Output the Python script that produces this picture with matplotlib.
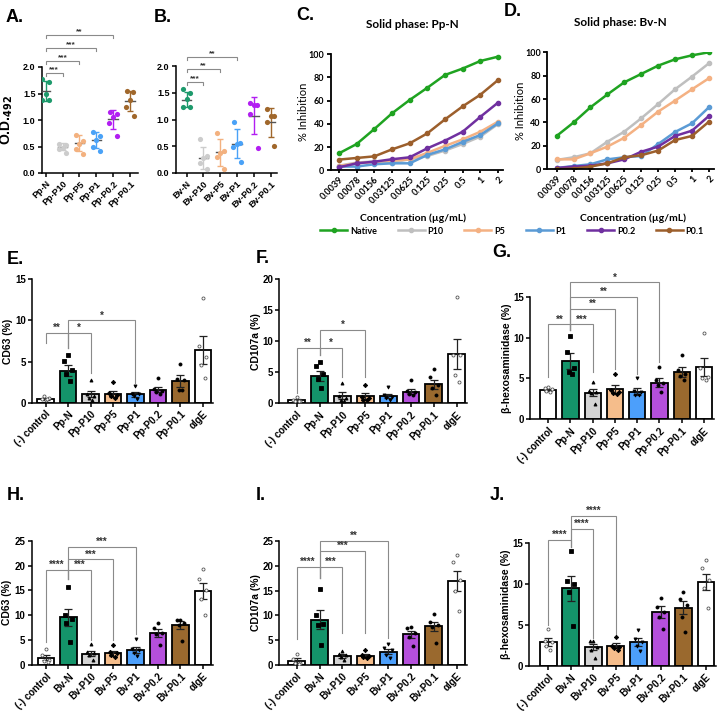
import matplotlib
matplotlib.use('Agg')
import matplotlib.pyplot as plt
from matplotlib.lines import Line2D
import numpy as np

plt.rcParams['font.family'] = ['Liberation Sans', 'DejaVu Sans']
plt.rcParams['font.weight'] = 'bold'
plt.rcParams['mathtext.default'] = 'bf'

# ---------------- data ----------------
groups_A = ['Pp-N', 'Pp-P10', 'Pp-P5', 'Pp-P1', 'Pp-P0.2', 'Pp-P0.1']
groups_B = ['Bv-N', 'Bv-P10', 'Bv-P5', 'Bv-P1', 'Bv-P0.2', 'Bv-P0.1']
pts_A = [[1.77, 1.72, 1.49, 1.38, 1.37], [0.55, 0.52, 0.48, 0.45, 0.38], [0.72, 0.60, 0.55, 0.45, 0.35],
         [0.78, 0.70, 0.63, 0.50, 0.42], [1.15, 1.12, 1.05, 0.95, 0.70], [1.55, 1.53, 1.38, 1.25, 1.07]]
mean_A = [1.54, 0.50, 0.56, 0.63, 1.01, 1.36]
sd_A = [0.19, 0.06, 0.15, 0.15, 0.18, 0.19]
pts_B = [[1.57, 1.49, 1.38, 1.24, 1.24], [0.63, 0.31, 0.28, 0.18, 0.08], [0.75, 0.42, 0.38, 0.30, 0.07],
         [0.95, 0.57, 0.55, 0.48, 0.20], [1.30, 1.27, 1.27, 1.10, 0.47], [1.20, 1.07, 1.07, 0.95, 0.50]]
mean_B = [1.37, 0.28, 0.39, 0.55, 1.07, 0.95]
sd_B = [0.14, 0.21, 0.25, 0.27, 0.35, 0.27]

conc = ['0.0039', '0.0078', '0.0156', '0.03125', '0.0625', '0.125', '0.25', '0.5', '1', '2']
series_names = ['Native', 'P10', 'P5', 'P1', 'P0.2', 'P0.1']
inhib_C = {
    'Native': [14.6, 22.6, 35.5, 49.0, 60.5, 71.0, 82.0, 87.5, 94.0, 97.7],
    'P10': [4.0, 6.6, 7.7, 6.6, 9.5, 12.3, 17.0, 22.6, 29.0, 39.8],
    'P5': [3.7, 6.0, 7.2, 8.3, 9.5, 15.0, 21.0, 26.6, 33.2, 41.8],
    'P1': [3.2, 3.2, 5.2, 6.0, 6.0, 13.2, 18.0, 24.4, 30.4, 40.4],
    'P0.2': [2.6, 6.0, 7.4, 9.5, 11.2, 18.9, 25.5, 33.2, 46.0, 58.2],
    'P0.1': [9.2, 10.6, 12.0, 18.0, 23.2, 31.8, 43.8, 55.0, 65.0, 77.6],
}
inhib_D = {
    'Native': [28.5, 40.0, 53.0, 64.0, 74.4, 81.5, 88.6, 94.0, 97.4, 100.0],
    'P10': [8.0, 10.3, 13.7, 23.6, 32.2, 43.6, 55.8, 68.4, 79.2, 90.6],
    'P5': [8.5, 8.5, 13.7, 19.4, 27.0, 37.9, 49.3, 58.7, 68.4, 77.8],
    'P1': [1.1, 2.8, 4.3, 8.5, 10.3, 11.4, 21.6, 31.9, 39.3, 53.0],
    'P0.2': [1.1, 2.3, 3.1, 5.1, 8.5, 15.0, 19.4, 28.5, 33.0, 45.6],
    'P0.1': [0.0, 0.6, 2.3, 5.1, 10.3, 12.0, 16.0, 25.0, 28.5, 40.7],
}

pp_groups = ['(-) control', 'Pp-N', 'Pp-P10', 'Pp-P5', 'Pp-P1', 'Pp-P0.2', 'Pp-P0.1', 'αIgE']
bv_groups = ['(-) control', 'Bv-N', 'Bv-P10', 'Bv-P5', 'Bv-P1', 'Bv-P0.2', 'Bv-P0.1', 'αIgE']

E_mean = [0.45, 3.9, 1.05, 1.1, 1.0, 1.6, 2.65, 6.4]
E_sem = [0.1, 0.65, 0.4, 0.35, 0.25, 0.35, 0.7, 1.65]
E_pts = [[0.3, 0.5, 0.6, 0.8, 0.4], [5.8, 5.1, 4.0, 3.5, 2.6], [2.7, 1.1, 0.8, 0.6, 0.3], [2.5, 1.2, 0.9, 0.8, 0.6],
         [2.0, 1.1, 1.0, 0.8, 0.5], [3.0, 1.7, 1.4, 1.3, 1.0], [4.7, 2.9, 2.7, 1.5, 1.5], [12.7, 6.9, 5.6, 4.6, 3.0]]
F_mean = [0.5, 4.4, 1.25, 1.2, 1.2, 1.9, 3.05, 7.9]
F_sem = [0.12, 0.85, 0.5, 0.5, 0.35, 0.4, 0.75, 2.4]
F_pts = [[1.0, 0.5, 0.4, 0.3, 0.4], [6.6, 6.0, 4.8, 3.9, 2.5], [3.2, 1.2, 0.9, 0.6, 0.4], [3.0, 1.0, 0.8, 0.6, 0.5],
         [2.6, 1.3, 1.0, 0.8, 0.5], [3.7, 2.0, 1.8, 1.5, 1.3], [5.6, 4.2, 3.0, 2.5, 1.4], [17.1, 7.8, 7.8, 4.6, 3.5]]
G_mean = [3.6, 7.15, 3.25, 3.7, 3.4, 4.5, 5.8, 6.4]
G_sem = [0.12, 1.0, 0.45, 0.5, 0.4, 0.5, 0.6, 1.1]
G_pts = [[3.9, 3.8, 3.7, 3.5, 3.3], [10.2, 8.2, 6.3, 5.8, 5.5], [4.6, 3.5, 3.3, 3.2, 1.9], [5.6, 3.6, 3.4, 3.2, 3.1],
         [5.0, 3.5, 3.3, 3.0, 3.0], [6.4, 4.8, 4.4, 4.2, 3.3], [7.9, 6.0, 5.6, 5.3, 4.8], [10.5, 6.3, 5.2, 5.0, 4.8]]
H_mean = [1.5, 9.6, 2.3, 2.35, 3.05, 6.4, 8.0, 14.9]
H_sem = [0.55, 1.7, 0.55, 0.5, 0.6, 0.8, 0.75, 1.65]
H_pts = [[3.2, 2.0, 1.0, 0.8, 0.6], [15.6, 10.0, 9.3, 8.4, 4.6], [4.2, 2.6, 2.4, 2.0, 1.0], [4.0, 2.6, 2.4, 2.0, 1.6],
         [5.3, 3.2, 3.0, 2.5, 1.9], [8.4, 7.4, 6.5, 6.3, 4.0], [9.0, 9.0, 8.4, 8.0, 4.8], [19.4, 17.3, 15.0, 13.3, 10.0]]
I_mean = [0.9, 9.1, 1.9, 1.9, 2.65, 6.2, 7.85, 16.9]
I_sem = [0.45, 1.9, 0.4, 0.3, 0.5, 0.7, 0.9, 2.0]
I_pts = [[2.3, 1.3, 0.5, 0.4, 0.3], [15.3, 10.0, 8.3, 8.0, 4.1], [2.8, 2.3, 2.0, 1.6, 1.0], [3.0, 2.0, 1.9, 1.6, 1.4],
         [4.3, 3.4, 3.0, 2.0, 1.5], [7.6, 7.4, 6.4, 5.6, 3.8], [10.3, 8.6, 8.0, 7.7, 4.5], [22.2, 20.8, 17.2, 14.9, 10.8]]
J_mean = [2.9, 9.5, 2.3, 2.5, 2.9, 6.6, 7.15, 10.3]
J_sem = [0.5, 1.5, 0.4, 0.3, 0.5, 0.75, 0.85, 1.0]
J_pts = [[4.5, 3.0, 2.9, 2.5, 2.0], [14.1, 10.4, 10.0, 9.0, 4.9], [3.0, 3.0, 2.3, 2.0, 1.0], [3.6, 2.5, 2.3, 2.2, 2.0],
         [4.4, 3.3, 2.9, 2.4, 1.8], [8.3, 7.2, 6.6, 6.0, 4.5], [9.1, 8.2, 7.4, 6.0, 4.2], [12.9, 12.0, 10.5, 9.5, 7.1]]

# significance brackets: (i, j, label)
sig_A = [(0, 1, '***'), (0, 2, '***'), (0, 3, '***'), (0, 4, '**')]
sig_B = [(0, 1, '***'), (0, 2, '**'), (0, 3, '**')]
sig_E = [(0, 1, '**'), (1, 2, '*'), (1, 4, '*')]
sig_F = [(0, 1, '**'), (1, 2, '*'), (1, 3, '*')]
sig_G = [(0, 1, '**'), (1, 2, '***'), (1, 3, '**'), (1, 4, '**'), (1, 5, '*')]
sig_H = [(0, 1, '****'), (1, 2, '***'), (1, 3, '***'), (1, 4, '***')]
sig_I = [(0, 1, '****'), (1, 2, '***'), (1, 3, '***'), (1, 4, '**')]
sig_J = [(0, 1, '****'), (1, 2, '****'), (1, 3, '****')]

# ---------------- styles ----------------
W, H = 721, 711
fig = plt.figure(figsize=(W / 100, H / 100), dpi=100)

col_AB = ['#1d9a6c', '#cccccc', '#f3b17f', '#4aa2f7', '#b21ef2', '#a0672b']
col_bar = ['#ffffff', '#14946a', '#d4d4d4', '#f5bd8b', '#4c9ffb', '#b54fdc', '#9a692e', '#ffffff']
col_line = {'Native': '#1fa321', 'P10': '#bfbfbf', 'P5': '#f4b183', 'P1': '#5b9bd5',
            'P0.2': '#7030a0', 'P0.1': '#9c5f2c'}
markers = ['o', 's', '^', 'D', 'v', 'o', 'o', 'o']
jit5 = [0.0, -0.16, 0.16, -0.08, 0.08]
jitAB = [-0.2, 0.2, 0.0, -0.22, 0.22]


def ax_px(x0, x1, ytop, ybot):
    return fig.add_axes([x0 / W, 1 - ybot / H, (x1 - x0) / W, (ybot - ytop) / H])


def style(ax, lw=1.3, fs=6.5):
    for s in ['top', 'right']:
        ax.spines[s].set_visible(False)
    for s in ['left', 'bottom']:
        ax.spines[s].set_linewidth(lw)
    ax.tick_params(direction='out', length=3, width=lw, labelsize=fs, pad=1.5)
    for lab in ax.get_yticklabels():
        lab.set_fontweight('bold')


def ylabel_at(ax, text, xright, x0, x1, fs=7.5, **kw):
    # xright: pixel position of the label's right edge
    ax.set_ylabel(text, fontsize=fs, fontweight='bold', **kw)
    ax.yaxis.set_label_coords((xright - x0) / (x1 - x0), 0.5)


def bracket(ax, i, j, h, yl, yr, text, color='#8a8a8a', fs=6.5, lw=0.8, dy=0.0):
    ax.plot([i, i, j, j], [yl, h, h, yr], color=color, lw=lw, clip_on=False, solid_joinstyle='miter')
    ax.text((i + j) / 2, h + dy, text, ha='center', va='bottom', fontsize=fs, fontweight='bold',
            color='#333333', clip_on=False)


def letter(xpx, ypx, t):
    fig.text(xpx / W, 1 - ypx / H, t, fontsize=13, fontweight='bold', ha='left', va='top')


# ---------------- A & B ----------------
def dot_panel(ax, groups, pts, mean, sd, xlim, sig, heights):
    for k, g in enumerate(groups):
        c = col_AB[k]
        ax.errorbar(k, mean[k], yerr=sd[k], color=c, capsize=2.5, capthick=1, lw=1, zorder=2)
        ax.plot([k - 0.28, k + 0.28], [mean[k], mean[k]], color='#555555', lw=1, zorder=3)
        ax.scatter([k + o for o in jitAB], pts[k], s=14, color=c, zorder=4, linewidths=0)
    ax.set_xlim(*xlim)
    ax.set_ylim(0, 2.0)
    ax.set_yticks([0, 0.5, 1.0, 1.5, 2.0])
    ax.set_yticklabels(['0.0', '0.5', '1.0', '1.5', '2.0'])
    ax.set_xticks(range(len(groups)))
    ax.set_xticklabels(groups, rotation=45, ha='right', rotation_mode='anchor', fontsize=7, fontweight='bold')
    style(ax, lw=1.1, fs=6.5)
    for (i, j, t), h in zip(sig, heights):
        bracket(ax, i, j, h, h - 0.06, h - 0.06, t, color='#8a8a8a', fs=6)


axA = ax_px(41.7, 138, 67, 173)
dot_panel(axA, groups_A, pts_A, mean_A, sd_A, (-0.24, 5.47), sig_A, [1.89, 2.11, 2.36, 2.6])
ylabel_at(axA, 'O.D.$_{492}$', 15, 41.7, 138, fs=10)
axB = ax_px(175.7, 277, 66, 173)
dot_panel(axB, groups_B, pts_B, mean_B, sd_B, (-0.65, 5.38), sig_B, [1.70, 1.94, 2.17])

# ---------------- C & D ----------------
def line_panel(ax, data, title, xlim, title_x):
    x = np.arange(len(conc))
    for name in series_names:
        ax.plot(x, data[name], color=col_line[name], lw=1.8, marker='o', ms=3)
    ax.set_xlim(*xlim)
    ax.set_ylim(0, 100)
    ax.set_yticks([0, 20, 40, 60, 80, 100])
    ax.set_xticks(x)
    ax.set_xticklabels(conc, rotation=45, ha='right', rotation_mode='anchor', fontsize=6, fontweight='bold',
                       family='Lato')
    style(ax, lw=1.3, fs=6.5)
    for lab in ax.get_yticklabels():
        lab.set_family('Lato')
    ax.tick_params(axis='x', length=2)
    t = ax.set_title(title, fontsize=8.5, fontweight='bold', family='Lato', pad=19)
    t.set_x(title_x)


axC = ax_px(330.7, 503, 54, 170.3)
line_panel(axC, inhib_C, 'Solid phase: Pp-N', (-0.47, 9.28), (412 - 330.7) / (503 - 330.7))
axC.set_ylabel('% Inhibition', fontsize=8, fontweight='normal', family='Lato')
axC.yaxis.set_label_coords((309 - 330.7) / (503 - 330.7), 0.5)
axD = ax_px(547, 714, 52.3, 169.3)
line_panel(axD, inhib_D, 'Solid phase: Bv-N', (-0.57, 9.3), (620 - 547) / (714 - 547))
axD.set_ylabel('% Inhibition', fontsize=8, fontweight='normal', family='Lato')
axD.yaxis.set_label_coords((525.5 - 547) / (714 - 547), 0.5)
fig.text(413 / W, 1 - 218 / H, 'Concentration (µg/mL)', ha='center', va='center', fontsize=7.5,
         fontweight='bold', family='Lato')
fig.text(633 / W, 1 - 218 / H, 'Concentration (µg/mL)', ha='center', va='center', fontsize=7.5,
         fontweight='bold', family='Lato')
handles = [Line2D([], [], color=col_line[n], lw=1.8, marker='o', ms=3) for n in series_names]
fig.legend(handles, series_names, loc='center', bbox_to_anchor=(512 / W, 1 - 231 / H), ncol=6, frameon=False,
           prop={'family': 'Lato', 'weight': 'bold', 'size': 6.5}, handlelength=3.0, handletextpad=0.3,
           columnspacing=2.3)

# ---------------- bar panels ----------------
def bar_panel(ax, groups, mean, sem, pts, ymax, yticks, xlim, sig, bdefs, xfs=8):
    x = np.arange(len(groups))
    ax.bar(x, mean, width=0.74, color=col_bar, edgecolor='black', linewidth=1.3, zorder=2)
    ax.errorbar(x, mean, yerr=sem, fmt='none', ecolor='#222222', elinewidth=0.9, capsize=3, capthick=0.9, zorder=3)
    for k in range(len(groups)):
        opn = k in (0, len(groups) - 1)
        ax.plot([k + o for o in jit5], pts[k], linestyle='none', marker=markers[k], ms=2.2,
                mfc='white' if opn else 'black', mec='#555555' if opn else 'black', mew=0.6, zorder=4)
    ax.set_xlim(*xlim)
    ax.set_ylim(0, ymax)
    ax.set_yticks(yticks)
    ax.set_xticks(x)
    ax.set_xticklabels(groups, rotation=45, ha='right', rotation_mode='anchor', fontsize=xfs, fontweight='bold')
    style(ax, lw=1.1, fs=7)
    for (i, j, t), (h, yl, yr) in zip(sig, bdefs):
        bracket(ax, i, j, h, yl, yr, t, fs=7)


axE = ax_px(32.3, 213, 279.3, 402.7)
bar_panel(axE, pp_groups, E_mean, E_sem, E_pts, 15, [0, 5, 10, 15], (-0.59, 7.45), sig_E,
          [(8.5, 7.2, 6.6), (8.5, 6.6, 3.6), (10.0, 6.6, 2.4)])
ylabel_at(axE, 'CD63 (%)', 13, 32.3, 213)

axF = ax_px(279.3, 467, 279.3, 403.3)
bar_panel(axF, pp_groups, F_mean, F_sem, F_pts, 20, [0, 5, 10, 15, 20], (-0.76, 7.45), sig_F,
          [(8.9, 1.6, 7.8), (8.9, 7.8, 4.2), (11.9, 7.8, 4.2)])
ylabel_at(axF, 'CD107a (%)', 261, 279.3, 467)

axG = ax_px(530, 714, 296.7, 419.3)
bar_panel(axG, pp_groups, G_mean, G_sem, G_pts, 15, [0, 5, 10, 15], (-0.82, 7.45), sig_G,
          [(11.6, 5.2, 10.9), (11.6, 10.9, 5.8), (13.5, 10.9, 6.1), (15.0, 10.9, 5.6), (16.75, 10.9, 7.0)])
ylabel_at(axG, 'β-hexosaminidase (%)', 512, 530, 714, fs=7.5)

axH = ax_px(31.7, 213, 540.7, 665)
bar_panel(axH, bv_groups, H_mean, H_sem, H_pts, 25, [0, 5, 10, 15, 20, 25], (-0.63, 7.45), sig_H,
          [(19.1, 4.7, 17.2), (19.1, 17.2, 5.0), (21.25, 17.2, 5.0), (23.7, 17.2, 6.3)], xfs=7.5)
ylabel_at(axH, 'CD63 (%)', 12, 31.7, 213)

axI = ax_px(279.3, 467, 541, 665)
bar_panel(axI, bv_groups, I_mean, I_sem, I_pts, 25, [0, 5, 10, 15, 20, 25], (-0.76, 7.45), sig_I,
          [(19.7, 5.2, 17.5), (19.7, 17.5, 6.4), (23.0, 17.5, 6.4), (25.0, 17.5, 5.5)], xfs=7.5)
ylabel_at(axI, 'CD107a (%)', 261, 279.3, 467)

axJ = ax_px(529.3, 716, 543.3, 666)
bar_panel(axJ, bv_groups, J_mean, J_sem, J_pts, 15, [0, 5, 10, 15], (-0.84, 7.45), sig_J,
          [(15.4, 5.0, 14.5), (16.8, 14.5, 3.4), (18.3, 14.5, 3.4)], xfs=7.5)
ylabel_at(axJ, 'β-hexosaminidase (%)', 511, 529.3, 716, fs=7.5)

# ---------------- panel letters ----------------
letter(6, 9, 'A.')
letter(154, 9, 'B.')
letter(296, 7, 'C.')
letter(504, 3, 'D.')
letter(7, 251, 'E.')
letter(256, 250, 'F.')
letter(492, 244, 'G.')
letter(7, 487, 'H.')
letter(256, 487, 'I.')
letter(490, 487, 'J.')

fig.savefig('out.png', dpi=100)
